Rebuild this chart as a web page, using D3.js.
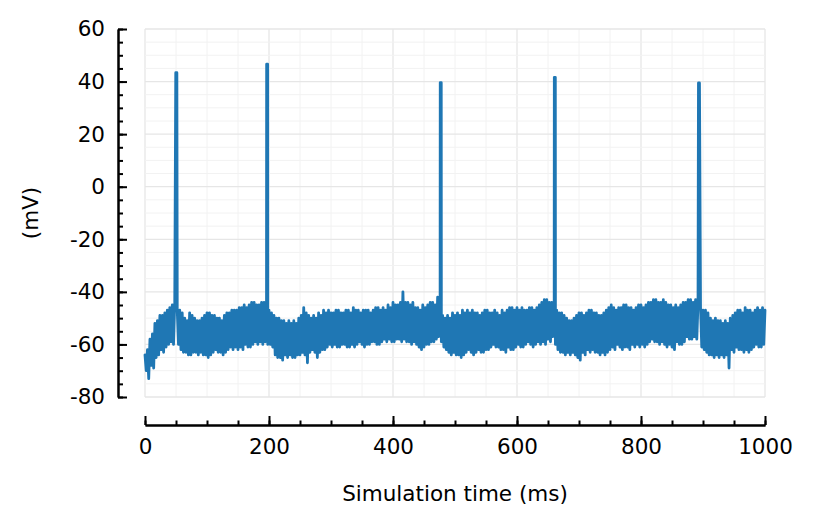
<!DOCTYPE html>
<html>
<head>
<meta charset="utf-8">
<script src="https://cdn.jsdelivr.net/npm/d3@7"></script>
<style>
  body { margin: 0; background: #fff; }
  svg { display: block; }
  text { font-family: "DejaVu Sans", sans-serif; }
</style>
</head>
<body>
<svg id="chart" width="816" height="526"></svg>
<script>
// membrane potential, one reading every 2 ms
const dt = 2
const vm = [
  -64, -70, -62, -73, -58, -68, -56, -69, -52, -65, -51, -64, -49, -62, -49, -63, -48, -61, -47, -60,
  -46, -59, -45, -60, -44, -57, -47, -60, -47, -62, -48, -63, -50, -63, -51, -64, -48, -64, -49, -63,
  -50, -63, -51, -64, -51, -63, -50, -64, -49, -64, -48, -65, -48, -64, -49, -63, -49, -62, -50, -63,
  -50, -63, -51, -64, -49, -63, -48, -62, -48, -61, -47, -62, -47, -61, -47, -62, -46, -61, -46, -62,
  -45, -60, -46, -61, -45, -61, -44, -60, -44, -59, -45, -60, -45, -59, -44, -60, -44, -59, -44, -60,
  -47, -60, -48, -61, -49, -64, -50, -65, -50, -65, -51, -66, -51, -64, -52, -65, -51, -64, -52, -65,
  -51, -65, -52, -64, -50, -64, -49, -63, -46, -64, -48, -67, -49, -63, -50, -62, -49, -63, -50, -65,
  -48, -63, -49, -62, -47, -62, -48, -61, -47, -60, -48, -61, -48, -60, -47, -61, -47, -61, -48, -60,
  -48, -60, -47, -61, -47, -61, -48, -60, -46, -61, -47, -60, -47, -59, -48, -60, -47, -61, -47, -60,
  -47, -60, -48, -59, -47, -59, -46, -60, -46, -60, -47, -59, -46, -58, -47, -59, -45, -58, -46, -59,
  -44, -59, -45, -58, -45, -58, -44, -59, -40, -58, -44, -59, -44, -59, -45, -60, -44, -59, -46, -60,
  -46, -61, -47, -62, -45, -61, -46, -60, -45, -60, -44, -59, -44, -59, -45, -58, -42, -57, -43, -59,
  -49, -61, -50, -62, -49, -63, -50, -64, -48, -63, -49, -64, -48, -64, -49, -65, -47, -64, -48, -63,
  -47, -62, -48, -63, -47, -64, -48, -63, -48, -62, -49, -63, -48, -63, -47, -62, -47, -62, -48, -61,
  -48, -60, -47, -61, -48, -61, -49, -62, -47, -62, -48, -63, -47, -61, -46, -62, -46, -62, -47, -61,
  -46, -60, -47, -61, -46, -61, -47, -60, -47, -59, -46, -60, -46, -61, -47, -60, -46, -59, -45, -60,
  -44, -59, -43, -60, -43, -58, -44, -59, -44, -57, -45, -60, -47, -62, -48, -63, -48, -63, -49, -64,
  -50, -63, -51, -64, -51, -63, -50, -64, -49, -65, -48, -66, -48, -63, -49, -64, -48, -62, -47, -63,
  -47, -62, -48, -63, -48, -63, -49, -64, -49, -63, -48, -64, -47, -63, -46, -62, -45, -61, -46, -62,
  -47, -60, -46, -61, -46, -62, -45, -61, -45, -61, -46, -62, -46, -60, -47, -61, -46, -60, -45, -61,
  -45, -60, -46, -61, -45, -60, -44, -59, -44, -58, -43, -59, -43, -59, -44, -60, -44, -59, -43, -60,
  -44, -61, -45, -60, -45, -61, -46, -62, -45, -59, -46, -60, -45, -60, -44, -59, -44, -57, -43, -58,
  -43, -58, -44, -57, -43, -58, -44, -59, -46, -61, -47, -62, -47, -63, -48, -64, -50, -64, -51, -65,
  -50, -64, -51, -65, -51, -64, -52, -65, -51, -64, -52, -69, -50, -62, -49, -63, -48, -61, -47, -62,
  -47, -62, -48, -63, -46, -62, -47, -63, -47, -62, -48, -61, -47, -60, -46, -61, -47, -61, -46, -60,
  -47
]
// action potentials: time the trace leaves the noise band, time it returns, peak
const spikeStart = [49.6, 196.2, 476.2, 660.2, 892.7]
const spikeEnd = [51.4, 197.8, 477.8, 661.8, 894.3]
const spikePeaks = [43.4, 46.6, 39.6, 41.6, 39.5]

const xTicks = [0, 200, 400, 600, 800, 1000]
const xMinor = d3.range(0, 1001, 50)
const yTicks = [-80, -60, -40, -20, 0, 20, 40, 60]
const yMinor = d3.range(-80, 61, 5)

const svg = d3.select('#chart')
svg.append('rect').attr('width', 816).attr('height', 526).attr('fill', '#fff')

const x = d3.scaleLinear().domain([0, 1000]).range([145, 765])
const y = d3.scaleLinear().domain([-80, 60]).range([397, 29])

// grid
let grid = svg.append('g')
grid.selectAll('line.v')
    .data(xMinor)
    .join('line')
    .attr('x1', d => x(d)).attr('x2', d => x(d))
    .attr('y1', y(-80)).attr('y2', y(60))
    .attr('stroke', d => d % 200 === 0 ? '#e6e6e6' : '#f2f2f2')
    .attr('stroke-width', d => d % 200 === 0 ? 1.3 : 1)
grid.selectAll('line.h')
    .data(yMinor)
    .join('line')
    .attr('x1', x(0)).attr('x2', x(1000))
    .attr('y1', d => y(d)).attr('y2', d => y(d))
    .attr('stroke', d => d % 20 === 0 ? '#e6e6e6' : '#f2f2f2')
    .attr('stroke-width', d => d % 20 === 0 ? 1.3 : 1)

// trace: samples, minus whatever falls inside a spike, plus the spike tops
let points = vm.map((v, i) => ({ t: i * dt, v }))
    .filter(p => !spikeStart.some((s, k) => p.t > s && p.t < spikeEnd[k]))
spikeStart.forEach((s, k) => {
    points.push({ t: s, v: spikePeaks[k] })
    points.push({ t: spikeEnd[k], v: spikePeaks[k] })
})
points.sort((a, b) => a.t - b.t)

const line = d3.line().x(d => x(d.t)).y(d => y(d.v))
svg.append('path')
    .datum(points)
    .attr('d', line)
    .attr('fill', 'none')
    .attr('stroke', '#1f77b4')
    .attr('stroke-width', 2.8)
    .attr('stroke-linejoin', 'round')
    .attr('stroke-linecap', 'round')

// axes
const xAxisY = 425
const yAxisX = 118

let gx = svg.append('g').attr('transform', `translate(0,${xAxisY})`)
let gxMinor = gx.append('g')
    .call(d3.axisBottom(x).tickValues(xMinor).tickSize(-4.5).tickSizeOuter(0))
gxMinor.selectAll('text').remove()
let gxMajor = gx.append('g')
    .call(d3.axisBottom(x).tickValues(xTicks).tickSize(-9).tickSizeOuter(0).tickPadding(14))
gxMajor.selectAll('.tick text').text(d => d)

let gy = svg.append('g').attr('transform', `translate(${yAxisX},0)`)
let gyMinor = gy.append('g')
    .call(d3.axisLeft(y).tickValues(yMinor).tickSize(-5).tickSizeOuter(0))
gyMinor.selectAll('text').remove()
let gyMajor = gy.append('g')
    .call(d3.axisLeft(y).tickValues(yTicks).tickSize(-9).tickSizeOuter(0).tickPadding(13))
gyMajor.selectAll('.tick text').text(d => d)

svg.selectAll('.domain').attr('stroke', '#000').attr('stroke-width', 2)
svg.selectAll('.tick line').attr('stroke', '#000').attr('stroke-width', 2)
svg.selectAll('.tick text')
    .attr('fill', '#000')
    .style('font-size', '21.5px')
    .style('font-family', 'DejaVu Sans')

svg.append('text')
    .attr('x', 455).attr('y', 501)
    .attr('text-anchor', 'middle')
    .style('font-size', '21.5px')
    .text('Simulation time (ms)')

svg.append('text')
    .attr('transform', 'translate(38,213) rotate(-90)')
    .attr('text-anchor', 'middle')
    .style('font-size', '21.5px')
    .text('(mV)')
</script>
</body>
</html>
